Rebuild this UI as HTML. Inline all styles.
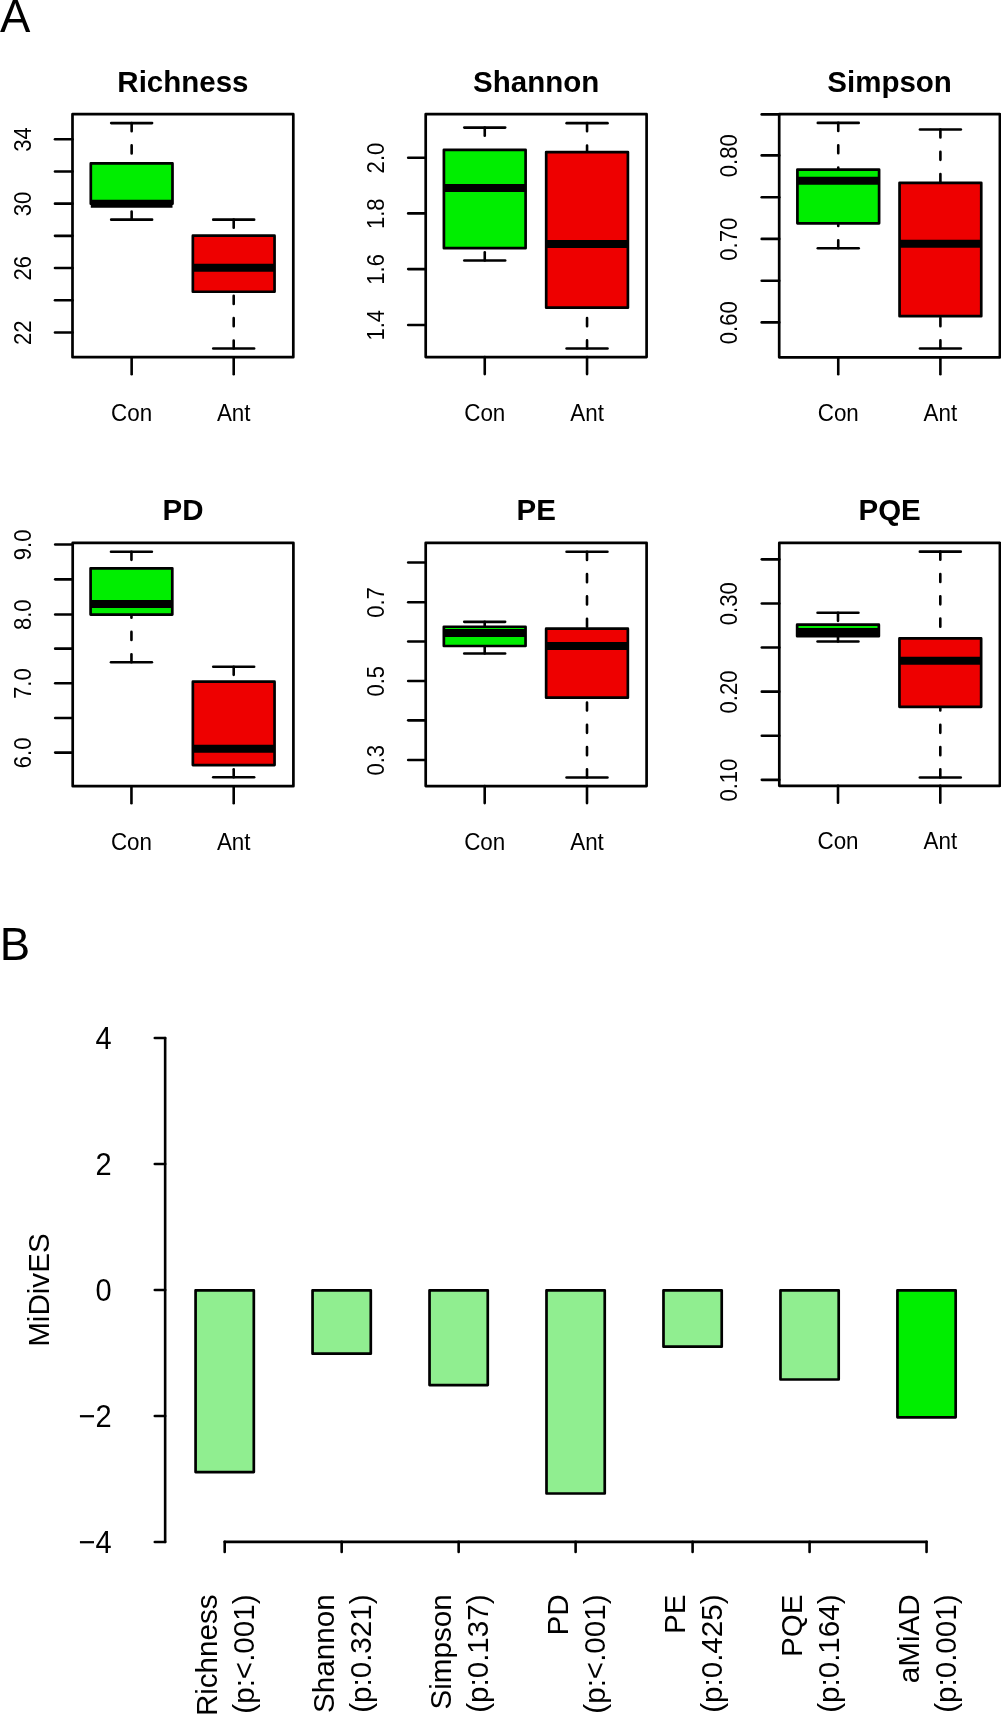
<!DOCTYPE html>
<html><head><meta charset="utf-8"><title>Figure</title><style>
html,body{margin:0;padding:0;background:#fff;width:1001px;height:1714px;overflow:hidden;}
body{position:relative;font-family:"Liberation Sans", sans-serif;}
</style></head><body>
<svg width="1001" height="1714" viewBox="0 0 1001 1714" style="position:absolute;left:0;top:0;display:block">
<rect x="0" y="0" width="1001" height="1714" fill="#fff"/>
<g stroke="#000" fill="none" stroke-linecap="round" stroke-linejoin="round">
<line x1="131.65" y1="123.1" x2="131.65" y2="163.4" stroke-width="2.6" stroke-dasharray="8.1 14.2"/>
<line x1="131.65" y1="219.65" x2="131.65" y2="203.65" stroke-width="2.6" stroke-dasharray="8.1 14.2"/>
<line x1="111.2" y1="123.1" x2="152.1" y2="123.1" stroke-width="2.6"/>
<line x1="111.2" y1="219.65" x2="152.1" y2="219.65" stroke-width="2.6"/>
<rect x="90.8" y="163.4" width="81.7" height="40.25" fill="#00EE00" stroke-width="2.7"/>
<line x1="90.8" y1="203.65" x2="172.5" y2="203.65" stroke-width="8.0" stroke-linecap="butt"/>
<line x1="233.7" y1="219.65" x2="233.7" y2="235.65" stroke-width="2.6" stroke-dasharray="8.1 14.2"/>
<line x1="233.7" y1="348.55" x2="233.7" y2="291.75" stroke-width="2.6" stroke-dasharray="8.1 14.2"/>
<line x1="213.25" y1="219.65" x2="254.15" y2="219.65" stroke-width="2.6"/>
<line x1="213.25" y1="348.55" x2="254.15" y2="348.55" stroke-width="2.6"/>
<rect x="192.85" y="235.65" width="81.7" height="56.1" fill="#EE0000" stroke-width="2.7"/>
<line x1="192.85" y1="267.8" x2="274.55" y2="267.8" stroke-width="8.0" stroke-linecap="butt"/>
<rect x="72.5" y="114.2" width="220.8" height="243" stroke-width="2.7"/>
<line x1="55" y1="139.25" x2="72.5" y2="139.25" stroke-width="2.6"/>
<line x1="55" y1="171.45" x2="72.5" y2="171.45" stroke-width="2.6"/>
<line x1="55" y1="203.65" x2="72.5" y2="203.65" stroke-width="2.6"/>
<line x1="55" y1="235.85" x2="72.5" y2="235.85" stroke-width="2.6"/>
<line x1="55" y1="268.05" x2="72.5" y2="268.05" stroke-width="2.6"/>
<line x1="55" y1="300.25" x2="72.5" y2="300.25" stroke-width="2.6"/>
<line x1="55" y1="332.45" x2="72.5" y2="332.45" stroke-width="2.6"/>
<line x1="131.65" y1="357.2" x2="131.65" y2="374.2" stroke-width="2.6"/>
<line x1="233.7" y1="357.2" x2="233.7" y2="374.2" stroke-width="2.6"/>
<line x1="484.75" y1="127.6" x2="484.75" y2="149.85" stroke-width="2.6" stroke-dasharray="8.1 14.2"/>
<line x1="484.75" y1="260.5" x2="484.75" y2="248.2" stroke-width="2.6" stroke-dasharray="8.1 14.2"/>
<line x1="464.3" y1="127.6" x2="505.2" y2="127.6" stroke-width="2.6"/>
<line x1="464.3" y1="260.5" x2="505.2" y2="260.5" stroke-width="2.6"/>
<rect x="443.9" y="149.85" width="81.7" height="98.35" fill="#00EE00" stroke-width="2.7"/>
<line x1="443.9" y1="188.05" x2="525.6" y2="188.05" stroke-width="8.0" stroke-linecap="butt"/>
<line x1="587.05" y1="123.15" x2="587.05" y2="152.1" stroke-width="2.6" stroke-dasharray="8.1 14.2"/>
<line x1="587.05" y1="348.5" x2="587.05" y2="307.65" stroke-width="2.6" stroke-dasharray="8.1 14.2"/>
<line x1="566.6" y1="123.15" x2="607.5" y2="123.15" stroke-width="2.6"/>
<line x1="566.6" y1="348.5" x2="607.5" y2="348.5" stroke-width="2.6"/>
<rect x="546.2" y="152.1" width="81.7" height="155.55" fill="#EE0000" stroke-width="2.7"/>
<line x1="546.2" y1="244.05" x2="627.9" y2="244.05" stroke-width="8.0" stroke-linecap="butt"/>
<rect x="425.7" y="114.2" width="220.9" height="242.9" stroke-width="2.7"/>
<line x1="408.2" y1="157.75" x2="425.7" y2="157.75" stroke-width="2.6"/>
<line x1="408.2" y1="213.4" x2="425.7" y2="213.4" stroke-width="2.6"/>
<line x1="408.2" y1="269.1" x2="425.7" y2="269.1" stroke-width="2.6"/>
<line x1="408.2" y1="324.95" x2="425.7" y2="324.95" stroke-width="2.6"/>
<line x1="484.75" y1="357.1" x2="484.75" y2="374.1" stroke-width="2.6"/>
<line x1="587.05" y1="357.1" x2="587.05" y2="374.1" stroke-width="2.6"/>
<line x1="838.25" y1="122.9" x2="838.25" y2="169.6" stroke-width="2.6" stroke-dasharray="8.1 14.2"/>
<line x1="838.25" y1="248.3" x2="838.25" y2="223.35" stroke-width="2.6" stroke-dasharray="8.1 14.2"/>
<line x1="817.8" y1="122.9" x2="858.7" y2="122.9" stroke-width="2.6"/>
<line x1="817.8" y1="248.3" x2="858.7" y2="248.3" stroke-width="2.6"/>
<rect x="797.4" y="169.6" width="81.7" height="53.75" fill="#00EE00" stroke-width="2.7"/>
<line x1="797.4" y1="180.85" x2="879.1" y2="180.85" stroke-width="8.0" stroke-linecap="butt"/>
<line x1="940.4" y1="129.45" x2="940.4" y2="182.8" stroke-width="2.6" stroke-dasharray="8.1 14.2"/>
<line x1="940.4" y1="348.5" x2="940.4" y2="316.2" stroke-width="2.6" stroke-dasharray="8.1 14.2"/>
<line x1="919.95" y1="129.45" x2="960.85" y2="129.45" stroke-width="2.6"/>
<line x1="919.95" y1="348.5" x2="960.85" y2="348.5" stroke-width="2.6"/>
<rect x="899.55" y="182.8" width="81.7" height="133.4" fill="#EE0000" stroke-width="2.7"/>
<line x1="899.55" y1="243.85" x2="981.25" y2="243.85" stroke-width="8.0" stroke-linecap="butt"/>
<rect x="779.2" y="114.2" width="220.7" height="243.1" stroke-width="2.7"/>
<line x1="761.7" y1="114.4" x2="779.2" y2="114.4" stroke-width="2.6"/>
<line x1="761.7" y1="155.4" x2="779.2" y2="155.4" stroke-width="2.6"/>
<line x1="761.7" y1="197.3" x2="779.2" y2="197.3" stroke-width="2.6"/>
<line x1="761.7" y1="238.9" x2="779.2" y2="238.9" stroke-width="2.6"/>
<line x1="761.7" y1="280.8" x2="779.2" y2="280.8" stroke-width="2.6"/>
<line x1="761.7" y1="322.4" x2="779.2" y2="322.4" stroke-width="2.6"/>
<line x1="838.25" y1="357.3" x2="838.25" y2="374.3" stroke-width="2.6"/>
<line x1="940.4" y1="357.3" x2="940.4" y2="374.3" stroke-width="2.6"/>
<line x1="131.45" y1="551.75" x2="131.45" y2="568.3" stroke-width="2.6" stroke-dasharray="8.1 14.2"/>
<line x1="131.45" y1="662.3" x2="131.45" y2="614.55" stroke-width="2.6" stroke-dasharray="8.1 14.2"/>
<line x1="111" y1="551.75" x2="151.9" y2="551.75" stroke-width="2.6"/>
<line x1="111" y1="662.3" x2="151.9" y2="662.3" stroke-width="2.6"/>
<rect x="90.6" y="568.3" width="81.7" height="46.25" fill="#00EE00" stroke-width="2.7"/>
<line x1="90.6" y1="603.95" x2="172.3" y2="603.95" stroke-width="8.0" stroke-linecap="butt"/>
<line x1="233.7" y1="666.75" x2="233.7" y2="681.7" stroke-width="2.6" stroke-dasharray="8.1 14.2"/>
<line x1="233.7" y1="777.3" x2="233.7" y2="765.1" stroke-width="2.6" stroke-dasharray="8.1 14.2"/>
<line x1="213.25" y1="666.75" x2="254.15" y2="666.75" stroke-width="2.6"/>
<line x1="213.25" y1="777.3" x2="254.15" y2="777.3" stroke-width="2.6"/>
<rect x="192.85" y="681.7" width="81.7" height="83.4" fill="#EE0000" stroke-width="2.7"/>
<line x1="192.85" y1="748.85" x2="274.55" y2="748.85" stroke-width="8.0" stroke-linecap="butt"/>
<rect x="72.7" y="542.8" width="220.7" height="243.4" stroke-width="2.7"/>
<line x1="55.2" y1="544.55" x2="72.7" y2="544.55" stroke-width="2.6"/>
<line x1="55.2" y1="579.35" x2="72.7" y2="579.35" stroke-width="2.6"/>
<line x1="55.2" y1="614.45" x2="72.7" y2="614.45" stroke-width="2.6"/>
<line x1="55.2" y1="648.65" x2="72.7" y2="648.65" stroke-width="2.6"/>
<line x1="55.2" y1="683.3" x2="72.7" y2="683.3" stroke-width="2.6"/>
<line x1="55.2" y1="717.95" x2="72.7" y2="717.95" stroke-width="2.6"/>
<line x1="55.2" y1="752.6" x2="72.7" y2="752.6" stroke-width="2.6"/>
<line x1="131.45" y1="786.2" x2="131.45" y2="803.2" stroke-width="2.6"/>
<line x1="233.7" y1="786.2" x2="233.7" y2="803.2" stroke-width="2.6"/>
<line x1="484.7" y1="621.85" x2="484.7" y2="626.75" stroke-width="2.6" stroke-dasharray="8.1 14.2"/>
<line x1="484.7" y1="653.55" x2="484.7" y2="646" stroke-width="2.6" stroke-dasharray="8.1 14.2"/>
<line x1="464.25" y1="621.85" x2="505.15" y2="621.85" stroke-width="2.6"/>
<line x1="464.25" y1="653.55" x2="505.15" y2="653.55" stroke-width="2.6"/>
<rect x="443.85" y="626.75" width="81.7" height="19.25" fill="#00EE00" stroke-width="2.7"/>
<line x1="443.85" y1="633.1" x2="525.55" y2="633.1" stroke-width="8.0" stroke-linecap="butt"/>
<line x1="587" y1="551.8" x2="587" y2="628.65" stroke-width="2.6" stroke-dasharray="8.1 14.2"/>
<line x1="587" y1="777.45" x2="587" y2="697.65" stroke-width="2.6" stroke-dasharray="8.1 14.2"/>
<line x1="566.55" y1="551.8" x2="607.45" y2="551.8" stroke-width="2.6"/>
<line x1="566.55" y1="777.45" x2="607.45" y2="777.45" stroke-width="2.6"/>
<rect x="546.15" y="628.65" width="81.7" height="69" fill="#EE0000" stroke-width="2.7"/>
<line x1="546.15" y1="646.1" x2="627.85" y2="646.1" stroke-width="8.0" stroke-linecap="butt"/>
<rect x="425.7" y="542.8" width="220.9" height="243.3" stroke-width="2.7"/>
<line x1="408.2" y1="562.55" x2="425.7" y2="562.55" stroke-width="2.6"/>
<line x1="408.2" y1="602.2" x2="425.7" y2="602.2" stroke-width="2.6"/>
<line x1="408.2" y1="641.55" x2="425.7" y2="641.55" stroke-width="2.6"/>
<line x1="408.2" y1="680.95" x2="425.7" y2="680.95" stroke-width="2.6"/>
<line x1="408.2" y1="720.35" x2="425.7" y2="720.35" stroke-width="2.6"/>
<line x1="408.2" y1="759.95" x2="425.7" y2="759.95" stroke-width="2.6"/>
<line x1="484.7" y1="786.1" x2="484.7" y2="803.1" stroke-width="2.6"/>
<line x1="587" y1="786.1" x2="587" y2="803.1" stroke-width="2.6"/>
<line x1="838" y1="612.75" x2="838" y2="624.65" stroke-width="2.6" stroke-dasharray="8.1 14.2"/>
<line x1="838" y1="641.5" x2="838" y2="636.25" stroke-width="2.6" stroke-dasharray="8.1 14.2"/>
<line x1="817.55" y1="612.75" x2="858.45" y2="612.75" stroke-width="2.6"/>
<line x1="817.55" y1="641.5" x2="858.45" y2="641.5" stroke-width="2.6"/>
<rect x="797.15" y="624.65" width="81.7" height="11.6" fill="#00EE00" stroke-width="2.7"/>
<line x1="797.15" y1="632" x2="878.85" y2="632" stroke-width="8.0" stroke-linecap="butt"/>
<line x1="940.3" y1="551.65" x2="940.3" y2="638.45" stroke-width="2.6" stroke-dasharray="8.1 14.2"/>
<line x1="940.3" y1="777.45" x2="940.3" y2="706.85" stroke-width="2.6" stroke-dasharray="8.1 14.2"/>
<line x1="919.85" y1="551.65" x2="960.75" y2="551.65" stroke-width="2.6"/>
<line x1="919.85" y1="777.45" x2="960.75" y2="777.45" stroke-width="2.6"/>
<rect x="899.45" y="638.45" width="81.7" height="68.4" fill="#EE0000" stroke-width="2.7"/>
<line x1="899.45" y1="660.7" x2="981.15" y2="660.7" stroke-width="8.0" stroke-linecap="butt"/>
<rect x="779.3" y="542.8" width="220.6" height="243" stroke-width="2.7"/>
<line x1="761.8" y1="559.35" x2="779.3" y2="559.35" stroke-width="2.6"/>
<line x1="761.8" y1="603.45" x2="779.3" y2="603.45" stroke-width="2.6"/>
<line x1="761.8" y1="647.55" x2="779.3" y2="647.55" stroke-width="2.6"/>
<line x1="761.8" y1="691.65" x2="779.3" y2="691.65" stroke-width="2.6"/>
<line x1="761.8" y1="735.75" x2="779.3" y2="735.75" stroke-width="2.6"/>
<line x1="761.8" y1="779.85" x2="779.3" y2="779.85" stroke-width="2.6"/>
<line x1="838" y1="785.8" x2="838" y2="802.8" stroke-width="2.6"/>
<line x1="940.3" y1="785.8" x2="940.3" y2="802.8" stroke-width="2.6"/>
<rect x="195.58" y="1290.3" width="58.24" height="181.75" fill="#90EE90" stroke-width="2.7"/>
<rect x="312.55" y="1290.3" width="58.24" height="63.4" fill="#90EE90" stroke-width="2.7"/>
<rect x="429.53" y="1290.3" width="58.24" height="94.8" fill="#90EE90" stroke-width="2.7"/>
<rect x="546.5" y="1290.3" width="58.24" height="203.2" fill="#90EE90" stroke-width="2.7"/>
<rect x="663.48" y="1290.3" width="58.24" height="56.4" fill="#90EE90" stroke-width="2.7"/>
<rect x="780.46" y="1290.3" width="58.24" height="89.2" fill="#90EE90" stroke-width="2.7"/>
<rect x="897.43" y="1290.3" width="58.24" height="127" fill="#00EE00" stroke-width="2.7"/>
<line x1="165.15" y1="1038.04" x2="165.15" y2="1541.96" stroke-width="2.6"/>
<line x1="154.8" y1="1038.04" x2="165.15" y2="1038.04" stroke-width="2.6"/>
<line x1="154.8" y1="1164.02" x2="165.15" y2="1164.02" stroke-width="2.6"/>
<line x1="154.8" y1="1290" x2="165.15" y2="1290" stroke-width="2.6"/>
<line x1="154.8" y1="1415.98" x2="165.15" y2="1415.98" stroke-width="2.6"/>
<line x1="154.8" y1="1541.96" x2="165.15" y2="1541.96" stroke-width="2.6"/>
<line x1="224.7" y1="1541.85" x2="926.55" y2="1541.85" stroke-width="2.6"/>
<line x1="224.7" y1="1541.85" x2="224.7" y2="1551.9" stroke-width="2.6"/>
<line x1="341.67" y1="1541.85" x2="341.67" y2="1551.9" stroke-width="2.6"/>
<line x1="458.65" y1="1541.85" x2="458.65" y2="1551.9" stroke-width="2.6"/>
<line x1="575.62" y1="1541.85" x2="575.62" y2="1551.9" stroke-width="2.6"/>
<line x1="692.6" y1="1541.85" x2="692.6" y2="1551.9" stroke-width="2.6"/>
<line x1="809.58" y1="1541.85" x2="809.58" y2="1551.9" stroke-width="2.6"/>
<line x1="926.55" y1="1541.85" x2="926.55" y2="1551.9" stroke-width="2.6"/>
</g>
</svg>
<svg width="1001" height="1714" viewBox="0 0 1001 1714" style="position:absolute;left:0;top:0;display:block;will-change:transform">
<g fill="#000" font-family='"Liberation Sans", sans-serif'>
<text transform="translate(30.6,139.55) rotate(-90) scale(0.985,1.065)" text-anchor="middle" font-size="22.4">34</text>
<text transform="translate(30.6,203.95) rotate(-90) scale(0.985,1.065)" text-anchor="middle" font-size="22.4">30</text>
<text transform="translate(30.6,268.35) rotate(-90) scale(0.985,1.065)" text-anchor="middle" font-size="22.4">26</text>
<text transform="translate(30.6,332.75) rotate(-90) scale(0.985,1.065)" text-anchor="middle" font-size="22.4">22</text>
<text transform="translate(131.65,420.6) scale(1,1.05)" text-anchor="middle" font-size="22.4">Con</text>
<text transform="translate(233.7,420.6) scale(1,1.05)" text-anchor="middle" font-size="22.4">Ant</text>
<text transform="translate(182.9,91.6) scale(1,1.03)" text-anchor="middle" font-size="29.5" font-weight="bold">Richness</text>
<text transform="translate(383.8,158.05) rotate(-90) scale(0.985,1.065)" text-anchor="middle" font-size="22.4">2.0</text>
<text transform="translate(383.8,213.7) rotate(-90) scale(0.985,1.065)" text-anchor="middle" font-size="22.4">1.8</text>
<text transform="translate(383.8,269.4) rotate(-90) scale(0.985,1.065)" text-anchor="middle" font-size="22.4">1.6</text>
<text transform="translate(383.8,325.25) rotate(-90) scale(0.985,1.065)" text-anchor="middle" font-size="22.4">1.4</text>
<text transform="translate(484.75,420.5) scale(1,1.05)" text-anchor="middle" font-size="22.4">Con</text>
<text transform="translate(587.05,420.5) scale(1,1.05)" text-anchor="middle" font-size="22.4">Ant</text>
<text transform="translate(536.15,91.6) scale(1,1.03)" text-anchor="middle" font-size="29.5" font-weight="bold">Shannon</text>
<text transform="translate(737.3,155.7) rotate(-90) scale(0.985,1.065)" text-anchor="middle" font-size="22.4">0.80</text>
<text transform="translate(737.3,239.2) rotate(-90) scale(0.985,1.065)" text-anchor="middle" font-size="22.4">0.70</text>
<text transform="translate(737.3,322.7) rotate(-90) scale(0.985,1.065)" text-anchor="middle" font-size="22.4">0.60</text>
<text transform="translate(838.25,420.7) scale(1,1.05)" text-anchor="middle" font-size="22.4">Con</text>
<text transform="translate(940.4,420.7) scale(1,1.05)" text-anchor="middle" font-size="22.4">Ant</text>
<text transform="translate(889.55,91.6) scale(1,1.03)" text-anchor="middle" font-size="29.5" font-weight="bold">Simpson</text>
<text transform="translate(30.8,544.85) rotate(-90) scale(0.985,1.065)" text-anchor="middle" font-size="22.4">9.0</text>
<text transform="translate(30.8,614.75) rotate(-90) scale(0.985,1.065)" text-anchor="middle" font-size="22.4">8.0</text>
<text transform="translate(30.8,683.6) rotate(-90) scale(0.985,1.065)" text-anchor="middle" font-size="22.4">7.0</text>
<text transform="translate(30.8,752.9) rotate(-90) scale(0.985,1.065)" text-anchor="middle" font-size="22.4">6.0</text>
<text transform="translate(131.45,849.6) scale(1,1.05)" text-anchor="middle" font-size="22.4">Con</text>
<text transform="translate(233.7,849.6) scale(1,1.05)" text-anchor="middle" font-size="22.4">Ant</text>
<text transform="translate(183.05,520.2) scale(1,1.03)" text-anchor="middle" font-size="29.5" font-weight="bold">PD</text>
<text transform="translate(383.8,602.5) rotate(-90) scale(0.985,1.065)" text-anchor="middle" font-size="22.4">0.7</text>
<text transform="translate(383.8,681.25) rotate(-90) scale(0.985,1.065)" text-anchor="middle" font-size="22.4">0.5</text>
<text transform="translate(383.8,760.25) rotate(-90) scale(0.985,1.065)" text-anchor="middle" font-size="22.4">0.3</text>
<text transform="translate(484.7,849.5) scale(1,1.05)" text-anchor="middle" font-size="22.4">Con</text>
<text transform="translate(587,849.5) scale(1,1.05)" text-anchor="middle" font-size="22.4">Ant</text>
<text transform="translate(536.15,520.2) scale(1,1.03)" text-anchor="middle" font-size="29.5" font-weight="bold">PE</text>
<text transform="translate(737.4,603.75) rotate(-90) scale(0.985,1.065)" text-anchor="middle" font-size="22.4">0.30</text>
<text transform="translate(737.4,691.95) rotate(-90) scale(0.985,1.065)" text-anchor="middle" font-size="22.4">0.20</text>
<text transform="translate(737.4,780.15) rotate(-90) scale(0.985,1.065)" text-anchor="middle" font-size="22.4">0.10</text>
<text transform="translate(838,849.2) scale(1,1.05)" text-anchor="middle" font-size="22.4">Con</text>
<text transform="translate(940.3,849.2) scale(1,1.05)" text-anchor="middle" font-size="22.4">Ant</text>
<text transform="translate(889.6,520.2) scale(1,1.03)" text-anchor="middle" font-size="29.5" font-weight="bold">PQE</text>
<text transform="translate(111.6,1048.84) scale(0.98,1.075)" text-anchor="end" font-size="29.6">4</text>
<text transform="translate(111.6,1174.82) scale(0.98,1.075)" text-anchor="end" font-size="29.6">2</text>
<text transform="translate(111.6,1300.8) scale(0.98,1.075)" text-anchor="end" font-size="29.6">0</text>
<text transform="translate(111.6,1426.78) scale(0.98,1.075)" text-anchor="end" font-size="29.6">−2</text>
<text transform="translate(111.6,1552.76) scale(0.98,1.075)" text-anchor="end" font-size="29.6">−4</text>
<text transform="translate(217.25,1594.4) rotate(-90)" text-anchor="end" font-size="29.6">Richness</text>
<text transform="translate(253.9,1594.4) rotate(-90)" text-anchor="end" font-size="29.6">(p:&lt;.001)</text>
<text transform="translate(334.22,1594.4) rotate(-90)" text-anchor="end" font-size="29.6">Shannon</text>
<text transform="translate(370.87,1594.4) rotate(-90)" text-anchor="end" font-size="29.6">(p:0.321)</text>
<text transform="translate(451.2,1594.4) rotate(-90)" text-anchor="end" font-size="29.6">Simpson</text>
<text transform="translate(487.85,1594.4) rotate(-90)" text-anchor="end" font-size="29.6">(p:0.137)</text>
<text transform="translate(568.17,1594.4) rotate(-90)" text-anchor="end" font-size="29.6">PD</text>
<text transform="translate(604.83,1594.4) rotate(-90)" text-anchor="end" font-size="29.6">(p:&lt;.001)</text>
<text transform="translate(685.15,1594.4) rotate(-90)" text-anchor="end" font-size="29.6">PE</text>
<text transform="translate(721.8,1594.4) rotate(-90)" text-anchor="end" font-size="29.6">(p:0.425)</text>
<text transform="translate(802.12,1594.4) rotate(-90)" text-anchor="end" font-size="29.6">PQE</text>
<text transform="translate(838.78,1594.4) rotate(-90)" text-anchor="end" font-size="29.6">(p:0.164)</text>
<text transform="translate(919.1,1594.4) rotate(-90)" text-anchor="end" font-size="29.6">aMiAD</text>
<text transform="translate(955.75,1594.4) rotate(-90)" text-anchor="end" font-size="29.6">(p:0.001)</text>
<text transform="translate(48.8,1290.1) rotate(-90)" text-anchor="middle" font-size="29.6">MiDivES</text>
<text x="0" y="31.7" font-size="45.5">A</text>
<text x="-0.3" y="959.7" font-size="45.5">B</text>
</g>
</svg>
</body></html>
